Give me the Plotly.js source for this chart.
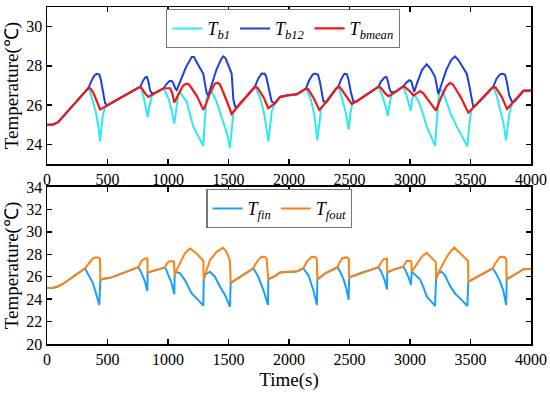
<!DOCTYPE html>
<html>
<head>
<meta charset="utf-8">
<script src="https://cdn.plot.ly/plotly-3.0.1.min.js"></script>
<style>html,body{margin:0;padding:0;background:#fff;}#chart{width:550px;height:399px;}</style>
</head>
<body>
<div id="chart"></div>
<script>
// ---- top panel: T_b1, T_b12, T_bmean ----
var tb1_t = [0,50,90,130,320,343,365,385,405,425,438,450,462,480,500,520,760,771,796,818,832,846,865,900,950,964,1003,1030,1052,1066,1085,1099,1154,1209,1250,1292,1305,1318,1333,1361,1400,1430,1471,1490,1512,1526,1540,1560,1580,1700,1719,1760,1790,1810,1829,1845,1858,1880,1926,1990,2063,2091,2141,2180,2210,2234,2250,2265,2290,2390,2408,2440,2470,2493,2508,2525,2560,2725,2740,2770,2800,2815,2828,2845,2870,2945,2970,2990,3006,3018,3030,3045,3070,3100,3138,3175,3207,3220,3234,3248,3270,3300,3340,3386,3430,3474,3490,3505,3525,3545,3670,3689,3720,3755,3775,3793,3808,3822,3845,3865,3937,3960,4000];
var tb1_v = [25.0,25.02,25.12,25.4,26.73,26.88,26.5,26.1,25.6,24.9,24.15,24.9,25.5,25.9,25.98,26.07,26.9,26.93,26.5,25.92,25.39,25.92,26.45,26.65,26.81,26.86,26.35,25.76,25.05,25.76,26.55,26.65,26.18,24.91,24.41,23.92,25.3,26.3,26.6,26.68,26.2,25.6,24.85,24.5,23.82,24.8,25.6,25.85,25.95,26.82,26.94,26.4,25.7,25.0,24.15,25.0,25.7,26.05,26.42,26.5,26.55,26.65,26.85,26.3,25.5,24.2,25.2,25.8,26.05,26.85,26.94,26.3,25.6,24.75,25.6,26.1,26.2,26.88,26.94,26.5,25.9,25.45,26.0,26.5,26.64,26.96,26.5,26.1,25.72,26.3,26.5,26.45,26.2,25.7,24.92,24.4,23.94,25.0,26.3,26.75,26.75,26.2,25.5,24.92,24.4,23.9,25.0,25.7,25.9,26.0,26.85,26.94,26.4,25.6,25.0,24.2,25.0,25.6,26.1,26.2,26.73,26.74,26.74];

var tb12_t = [0,50,90,130,320,343,365,390,410,433,445,460,480,500,520,760,771,790,812,826,838,851,865,900,950,964,985,1010,1030,1045,1060,1072,1100,1150,1196,1215,1250,1292,1305,1320,1333,1360,1400,1440,1457,1475,1500,1526,1540,1554,1575,1700,1719,1745,1774,1800,1812,1830,1857,1884,1926,1990,2063,2091,2141,2165,2195,2215,2240,2255,2270,2284,2310,2390,2408,2430,2457,2478,2492,2510,2532,2560,2725,2740,2760,2790,2805,2818,2830,2842,2870,2945,2970,2995,3010,3022,3035,3060,3100,3138,3170,3207,3222,3234,3260,3300,3340,3372,3400,3440,3469,3490,3510,3523,3545,3670,3689,3715,3745,3766,3785,3800,3820,3840,3865,3937,3960,4000];
var tb12_v = [25.0,25.02,25.12,25.4,26.73,26.88,27.2,27.5,27.6,27.56,27.3,26.7,26.1,25.98,26.07,26.9,26.93,27.2,27.42,27.44,27.2,26.77,26.6,26.65,26.81,26.86,27.05,27.22,27.24,27.1,26.85,26.77,27.2,27.95,28.45,28.45,28.05,27.6,27.1,26.6,26.5,27.0,27.8,28.35,28.48,28.4,28.0,27.61,26.3,25.93,25.95,26.82,26.94,27.35,27.61,27.6,27.45,26.94,26.18,26.1,26.42,26.5,26.55,26.65,26.85,27.25,27.55,27.61,27.55,27.2,26.7,26.2,26.15,26.85,26.94,27.3,27.6,27.58,27.3,26.7,26.18,26.2,26.88,26.94,27.2,27.42,27.44,27.2,26.85,26.68,26.64,26.96,27.15,27.27,27.22,26.9,26.68,27.15,27.8,28.08,27.85,27.44,27.0,26.57,27.05,27.8,28.3,28.48,28.3,27.9,27.6,27.0,26.3,25.9,26.0,26.85,26.94,27.35,27.58,27.6,27.55,27.2,26.5,26.2,26.2,26.73,26.74,26.74];

var tbmean_t = [0,50,90,130,320,343,360,385,415,438,460,493,520,760,771,785,810,837,870,950,964,1019,1035,1052,1080,1120,1144,1165,1180,1240,1292,1310,1350,1388,1410,1430,1480,1526,1560,1700,1719,1740,1790,1829,1855,1884,1926,1990,2063,2091,2141,2160,2200,2250,2280,2390,2408,2425,2470,2518,2560,2725,2740,2760,2795,2821,2850,2945,2960,3000,3028,3055,3085,3110,3160,3215,3250,3300,3331,3355,3420,3482,3520,3670,3689,3710,3760,3802,3840,3937,3960,4000];
var tbmean_v = [25.0,25.02,25.12,25.4,26.73,26.88,26.85,26.6,26.15,25.78,25.85,25.97,26.07,26.9,26.93,26.85,26.6,26.42,26.53,26.81,26.86,26.86,26.6,26.13,26.5,26.95,27.08,27.1,27.0,26.45,25.76,26.0,26.65,27.1,27.14,27.05,26.3,25.55,25.8,26.82,26.94,26.88,26.4,25.84,25.95,26.1,26.42,26.5,26.55,26.65,26.85,26.8,26.4,25.76,25.95,26.85,26.94,26.88,26.5,26.06,26.2,26.88,26.94,26.88,26.6,26.46,26.55,26.96,26.92,26.7,26.5,26.6,26.72,26.6,26.2,25.72,26.3,26.95,27.14,27.05,26.4,25.62,25.85,26.85,26.94,26.88,26.4,25.8,26.05,26.73,26.74,26.74];

// ---- bottom panel: T_fin, T_fout ----
var tfin_t = [0,50,90,130,314,335,355,377,397,415,432,441,470,535,755,768,782,810,829,832,900,975,990,1003,1030,1052,1055,1066,1099,1140,1196,1237,1292,1295,1306,1347,1388,1430,1471,1512,1518,1600,1705,1725,1746,1788,1810,1826,1829,1884,1926,1990,2063,2118,2135,2160,2201,2231,2234,2300,2400,2420,2450,2475,2493,2497,2600,2738,2760,2790,2810,2812,2870,2945,2965,2990,3008,3014,3040,3083,3110,3138,3175,3207,3215,3234,3262,3290,3330,3372,3420,3474,3482,3580,3683,3705,3740,3770,3795,3799,3870,3936,3960,4000];
var tfin_v = [25.0,25.02,25.12,25.35,26.74,26.3,26.0,25.5,24.81,24.2,23.47,25.72,25.82,25.94,26.85,26.6,26.3,25.55,24.72,26.38,26.6,26.83,26.5,26.15,25.4,24.43,26.12,26.44,26.3,25.7,24.51,24.07,23.42,25.72,26.15,26.44,26.0,25.1,24.37,23.33,25.45,26.0,26.74,26.4,26.0,24.81,24.1,23.47,25.76,26.06,26.38,26.44,26.46,26.74,26.5,26.15,24.81,23.47,25.76,26.3,26.83,26.5,25.8,24.9,23.95,25.94,26.35,26.83,26.5,25.7,24.87,26.4,26.65,26.89,26.5,25.9,25.26,26.42,26.2,25.76,25.1,24.22,23.8,23.39,25.76,26.3,26.45,26.1,25.2,24.5,24.0,23.39,25.55,26.1,26.74,26.4,25.7,24.8,23.47,25.76,26.2,26.65,26.68,26.68];

var tfout_t = [0,50,90,130,314,335,355,377,397,424,438,441,470,535,755,768,782,810,829,832,900,975,990,1003,1030,1049,1055,1075,1099,1140,1182,1237,1292,1295,1306,1347,1402,1452,1485,1512,1518,1600,1705,1725,1746,1774,1801,1815,1829,1884,1926,1990,2063,2118,2146,2187,2215,2230,2234,2300,2400,2420,2440,2480,2494,2497,2600,2738,2760,2780,2807,2810,2812,2870,2945,2960,2973,3006,3012,3014,3055,3097,3138,3171,3207,3213,3215,3234,3275,3317,3366,3413,3474,3480,3482,3580,3683,3705,3744,3777,3795,3799,3870,3936,3960,4000];
var tfout_v = [25.0,25.02,25.12,25.35,26.74,27.05,27.4,27.62,27.72,27.72,27.58,25.72,25.82,25.94,26.85,27.15,27.42,27.63,27.62,26.38,26.6,26.83,27.15,27.33,27.4,27.35,26.12,26.7,27.19,28.08,28.52,28.05,27.42,25.72,26.15,27.48,28.22,28.58,28.22,27.4,25.45,26.0,26.74,27.15,27.5,27.78,27.75,27.6,25.76,26.06,26.38,26.44,26.46,26.74,27.33,27.78,27.75,27.55,25.76,26.3,26.83,27.3,27.65,27.72,27.6,25.94,26.35,26.83,27.25,27.55,27.63,27.5,26.4,26.65,26.89,27.2,27.4,27.42,27.3,26.42,27.04,27.78,28.13,27.78,27.33,27.3,25.76,26.3,27.2,28.0,28.6,28.1,27.42,27.4,25.55,26.1,26.74,27.2,27.75,27.78,27.6,25.76,26.2,26.65,26.68,26.68];

var xTicks = [0,500,1000,1500,2000,2500,3000,3500,4000];

var FONT = '"Liberation Serif","Times New Roman",serif';

var traces = [
  {x: tb1_t, y: tb1_v, name: '<i>T</i><sub><i>b1</i></sub>', type: 'scatter', mode: 'lines',
   line: {color: '#2ee8f2', width: 2}, xaxis: 'x', yaxis: 'y', legend: 'legend'},
  {x: tb12_t, y: tb12_v, name: '<i>T</i><sub><i>b12</i></sub>', type: 'scatter', mode: 'lines',
   line: {color: '#1e3fdc', width: 2}, xaxis: 'x', yaxis: 'y', legend: 'legend'},
  {x: tbmean_t, y: tbmean_v, name: '<i>T</i><sub><i>bmean</i></sub>', type: 'scatter', mode: 'lines',
   line: {color: '#ee1a1a', width: 2.2}, xaxis: 'x', yaxis: 'y', legend: 'legend'},
  {x: tfin_t, y: tfin_v, name: '<i>T</i><sub><i>fin</i></sub>', type: 'scatter', mode: 'lines',
   line: {color: '#1aa0f5', width: 2}, xaxis: 'x2', yaxis: 'y2', legend: 'legend2'},
  {x: tfout_t, y: tfout_v, name: '<i>T</i><sub><i>fout</i></sub>', type: 'scatter', mode: 'lines',
   line: {color: '#fb8214', width: 2}, xaxis: 'x2', yaxis: 'y2', legend: 'legend2'}
];

var axCommon = {
  showline: true, linecolor: '#000', linewidth: 1.5, mirror: 'ticks',
  ticks: 'inside', ticklen: 5, tickwidth: 1.5, tickcolor: '#000',
  showgrid: false, zeroline: false,
  tickfont: {family: FONT, size: 16, color: '#000'}
};

var layout = {
  width: 550, height: 399,
  margin: {l: 47, r: 19, t: 7, b: 55},
  paper_bgcolor: '#fff', plot_bgcolor: '#fff',
  font: {family: FONT, color: '#000'},
  xaxis: Object.assign({}, axCommon, {domain: [0, 1], anchor: 'y', range: [0, 4000],
          tickvals: xTicks, ticktext: xTicks.map(String)}),
  yaxis: Object.assign({}, axCommon, {domain: [0.534, 1], anchor: 'x', range: [23, 31], dtick: 2, tick0: 24,
          title: {text: 'Temperature(℃)', font: {family: FONT, size: 19}, standoff: 2}}),
  xaxis2: Object.assign({}, axCommon, {domain: [0, 1], anchor: 'y2', range: [0, 4000],
          tickvals: xTicks, ticktext: xTicks.map(String),
          title: {text: 'Time(s)', font: {family: FONT, size: 19}, standoff: 6}}),
  yaxis2: Object.assign({}, axCommon, {domain: [0, 0.466], anchor: 'x2', range: [20, 34], dtick: 2, tick0: 20,
          title: {text: 'Temperature(℃)', font: {family: FONT, size: 19}, standoff: 2}}),
  legend: {orientation: 'h', x: 0.488, xanchor: 'center', y: 0.994, yanchor: 'top',
           bordercolor: '#777', borderwidth: 1.2, bgcolor: '#fff',
           font: {family: FONT, size: 18}, itemwidth: 30},
  legend2: {orientation: 'h', x: 0.48, xanchor: 'center', y: 0.46, yanchor: 'top',
           bordercolor: '#777', borderwidth: 1.2, bgcolor: '#fff',
           font: {family: FONT, size: 18}, itemwidth: 30},
  showlegend: true
};

Plotly.newPlot('chart', traces, layout, {staticPlot: true, displayModeBar: false});
</script>
</body>
</html>
